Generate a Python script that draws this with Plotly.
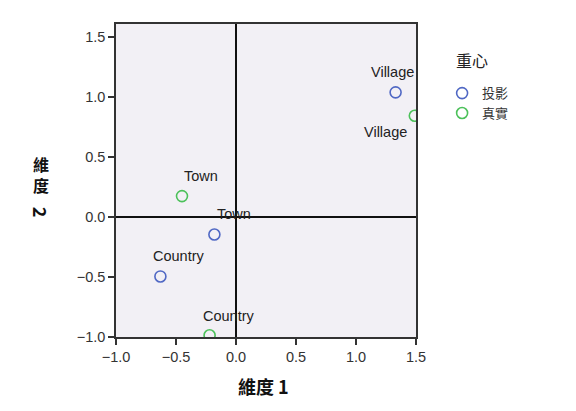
import plotly.graph_objects as go

# ---- data ----
categories = ["Village", "Town", "Country"]
proj_x = [1.33, -0.18, -0.63]
proj_y = [1.04, -0.145, -0.495]
real_x = [1.49, -0.45, -0.22]
real_y = [0.845, 0.175, -0.985]
series_names = ["投影", "真實"]
legend_title = "重心"
x_title = "維度 1"
y_title_upright = "維<br>度"
y_title_rotated = "2"
x_ticks = [-1.0, -0.5, 0.0, 0.5, 1.0, 1.5]
y_ticks = [-1.0, -0.5, 0.0, 0.5, 1.0, 1.5]

# label offsets in pixels (style, not data)
proj_shift = [(-3, 20), (20, 20), (19, 20)]
real_shift = [(-29, -16), (19, 20), (19, 19)]

BLUE = "#5068C4"
GREEN = "#4CC15A"
FONT = "Liberation Sans, Arial, sans-serif"
CJK = "Noto Sans CJK TC, sans-serif"

fig = go.Figure()
fig.add_trace(go.Scatter(x=proj_x, y=proj_y, mode="markers", name=series_names[0],
                         marker=dict(symbol="circle-open", size=11, color=BLUE, line=dict(width=1.6))))
fig.add_trace(go.Scatter(x=real_x, y=real_y, mode="markers", name=series_names[1],
                         marker=dict(symbol="circle-open", size=11, color=GREEN, line=dict(width=1.6))))

ann = []
for xs, ys, shifts in [(proj_x, proj_y, proj_shift), (real_x, real_y, real_shift)]:
    for c, x, y, (dx, dy) in zip(categories, xs, ys, shifts):
        ann.append(dict(x=x, y=y, text=c, showarrow=False, xshift=dx, yshift=dy,
                        font=dict(family=FONT, size=14.5, color="#222")))

ann.append(dict(xref="paper", yref="paper", x=0.49, y=-0.157, text="<b>%s</b>" % x_title, showarrow=False,
                font=dict(family=CJK, size=18, color="#111"), xanchor="center", yanchor="middle"))
ann.append(dict(xref="paper", yref="paper", x=-0.25, y=0.518, text="<b>%s</b>" % y_title_upright,
                showarrow=False, font=dict(family=CJK, size=16, color="#111"),
                xanchor="center", yanchor="middle"))
ann.append(dict(xref="paper", yref="paper", x=-0.25, y=0.400, text="<b>%s</b>" % y_title_rotated,
                showarrow=False, textangle=90, font=dict(family=CJK, size=18, color="#111"),
                xanchor="center", yanchor="middle"))
ann.append(dict(xref="paper", yref="paper", x=1.187, y=0.885, text=legend_title, showarrow=False,
                font=dict(family=CJK, size=16, color="#222"), xanchor="center", yanchor="middle"))

axis_common = dict(showline=True, mirror=True, linecolor="#333", linewidth=1.5,
                   ticks="outside", ticklen=6, tickwidth=1.5, tickcolor="#333",
                   showgrid=False, zeroline=True, zerolinecolor="#111", zerolinewidth=1.5,
                   tickfont=dict(family=FONT, size=14.5, color="#333"), tickformat=".1f")

fig.update_layout(
    width=576, height=411,
    margin=dict(l=108, r=168, t=16, b=82),
    paper_bgcolor="white", plot_bgcolor="#F2F0F5",
    xaxis=dict(range=[-1.0, 1.5], tickvals=x_ticks, **axis_common),
    yaxis=dict(range=[-1.0, 1.61], tickvals=y_ticks, **axis_common),
    showlegend=True,
    legend=dict(x=1.087, y=0.827, xanchor="left", yanchor="top",
                font=dict(family=CJK, size=13, color="#333"),
                itemwidth=30, tracegroupgap=0, bgcolor="rgba(0,0,0,0)"),
    annotations=ann,
)
fig.write_html("out.html")
